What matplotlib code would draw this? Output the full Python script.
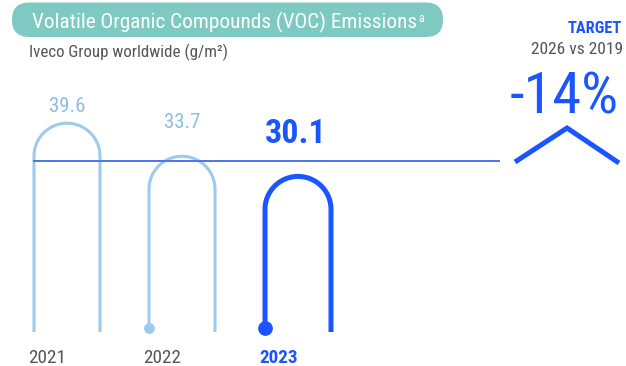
import matplotlib
matplotlib.use("Agg")
import matplotlib.pyplot as plt
from matplotlib import font_manager
from matplotlib.patches import FancyBboxPatch
import numpy as np

# ---- data -------------------------------------------------------------
years = ["2021", "2022", "2023"]
voc_g_per_m2 = [39.6, 33.7, 30.1]
reference_level = 32.9          # horizontal guide across the panel
target_label = "TARGET"
target_period = "2026 vs 2019"
target_change = "-14%"
title = "Volatile Organic Compounds (VOC) Emissions"
title_note = "a"
subtitle = "Iveco Group worldwide (g/m\u00b2)"

# ---- style ------------------------------------------------------------
LIGHT = "#9ecaec"
LIGHT_TEXT = "#8cbde2"
BLUE = "#1a55ff"
GUIDE = "#4a76ee"
GREY = "#555555"
TEAL = "#7ecac3"

available = {f.name for f in font_manager.fontManager.ttflist}
FONT = next((n for n in ["Liberation Sans Narrow", "Roboto Condensed",
                         "Open Sans Condensed", "Roboto"] if n in available),
            "DejaVu Sans")
plt.rcParams["font.family"] = [FONT, "DejaVu Sans"]

W, H = 626, 366
fig = plt.figure(figsize=(W / 100, H / 100), dpi=100)

# value axis: the arches are drawn in data units
ax = fig.add_axes([0, 0, 1, 1])
ax.set_xlim(0, W)
ax.set_ylim(-3.75, 61.6)
ax.axis("off")

# overlay for the header / target decoration, in pixel units from top-left
deco = fig.add_axes([0, 0, 1, 1], zorder=3)
deco.set_xlim(0, W)
deco.set_ylim(H, 0)
deco.axis("off")
deco.patch.set_alpha(0)

units_per_px = (ax.get_ylim()[1] - ax.get_ylim()[0]) / H

centers = [67, 182, 298]
half_w = 33
leg_base = (366 - 332) * units_per_px + ax.get_ylim()[0]
dot_level = (366 - 328) * units_per_px + ax.get_ylim()[0]
arch_colors = [LIGHT, LIGHT, BLUE]
arch_widths = [2.2, 2.2, 3.6]
has_dot = [False, True, True]
dot_sizes = [0, 7.8, 10.6]

ry = half_w * units_per_px
t = np.linspace(np.pi, 0, 120)
for cx, v, c, lw, dot, ms in zip(centers, voc_g_per_m2, arch_colors,
                                 arch_widths, has_dot, dot_sizes):
    top_center = v - ry
    xs = np.concatenate([[cx - half_w], cx + half_w * np.cos(t), [cx + half_w]])
    ys = np.concatenate([[leg_base], top_center + ry * np.sin(t), [leg_base]])
    ax.plot(xs, ys, color=c, lw=lw, solid_capstyle="butt",
            solid_joinstyle="round", zorder=2)
    if dot:
        ax.plot([cx - half_w], [dot_level], "o", ms=ms, color=c,
                mec="none", zorder=3)

ax.hlines(reference_level, 33, 500, color=GUIDE, lw=1.4, zorder=4)

# value labels above each arch
label_lift_px = [11, 28, 33]
label_sizes = [15, 15, 24.5]
label_colors = [LIGHT_TEXT, LIGHT_TEXT, BLUE]
label_weights = ["normal", "normal", "bold"]
label_x = [67, 182, 296]
for x, v, lift, fs, col, fw in zip(label_x, voc_g_per_m2, label_lift_px,
                                   label_sizes, label_colors, label_weights):
    ax.annotate(f"{v:.1f}", xy=(x, v), xytext=(0, lift),
                textcoords="offset pixels", ha="center", va="baseline",
                fontsize=fs, color=col, fontweight=fw)

# year labels under the arches
year_colors = [GREY, GREY, BLUE]
year_weights = ["normal", "normal", "bold"]
for cx, yr, col, fw in zip(centers, years, year_colors, year_weights):
    deco.text(cx - half_w - 6, 363, yr, ha="left", va="baseline",
              fontsize=13.8, color=col, fontweight=fw)

# header banner
deco.add_patch(FancyBboxPatch((12, 2.5), 431, 34.5,
                              boxstyle="round,pad=0,rounding_size=17.2",
                              fc=TEAL, ec="none"))
tt = deco.text(32, 28.8, title, ha="left", va="baseline",
               fontsize=15.3, color="white")
fig.canvas.draw()
bb = tt.get_window_extent(renderer=fig.canvas.get_renderer())
deco.text(bb.x1 + 1, 22, title_note, ha="left", va="baseline",
          fontsize=8.5, color="white")
deco.text(29, 57.5, subtitle, ha="left", va="baseline",
          fontsize=12.2, color=GREY)

# target panel
deco.text(622, 33, target_label, ha="right", va="baseline",
          fontsize=11.8, color=BLUE, fontweight="bold")
deco.text(623, 54.5, target_period, ha="right", va="baseline",
          fontsize=12.6, color=GREY)
deco.text(619, 113, target_change, ha="right", va="baseline",
          fontsize=42, color=BLUE)
deco.plot([515, 567, 619], [162, 128, 163], color=BLUE, lw=3.6,
          solid_joinstyle="miter", solid_capstyle="butt")

fig.savefig("out.png", dpi=100)
